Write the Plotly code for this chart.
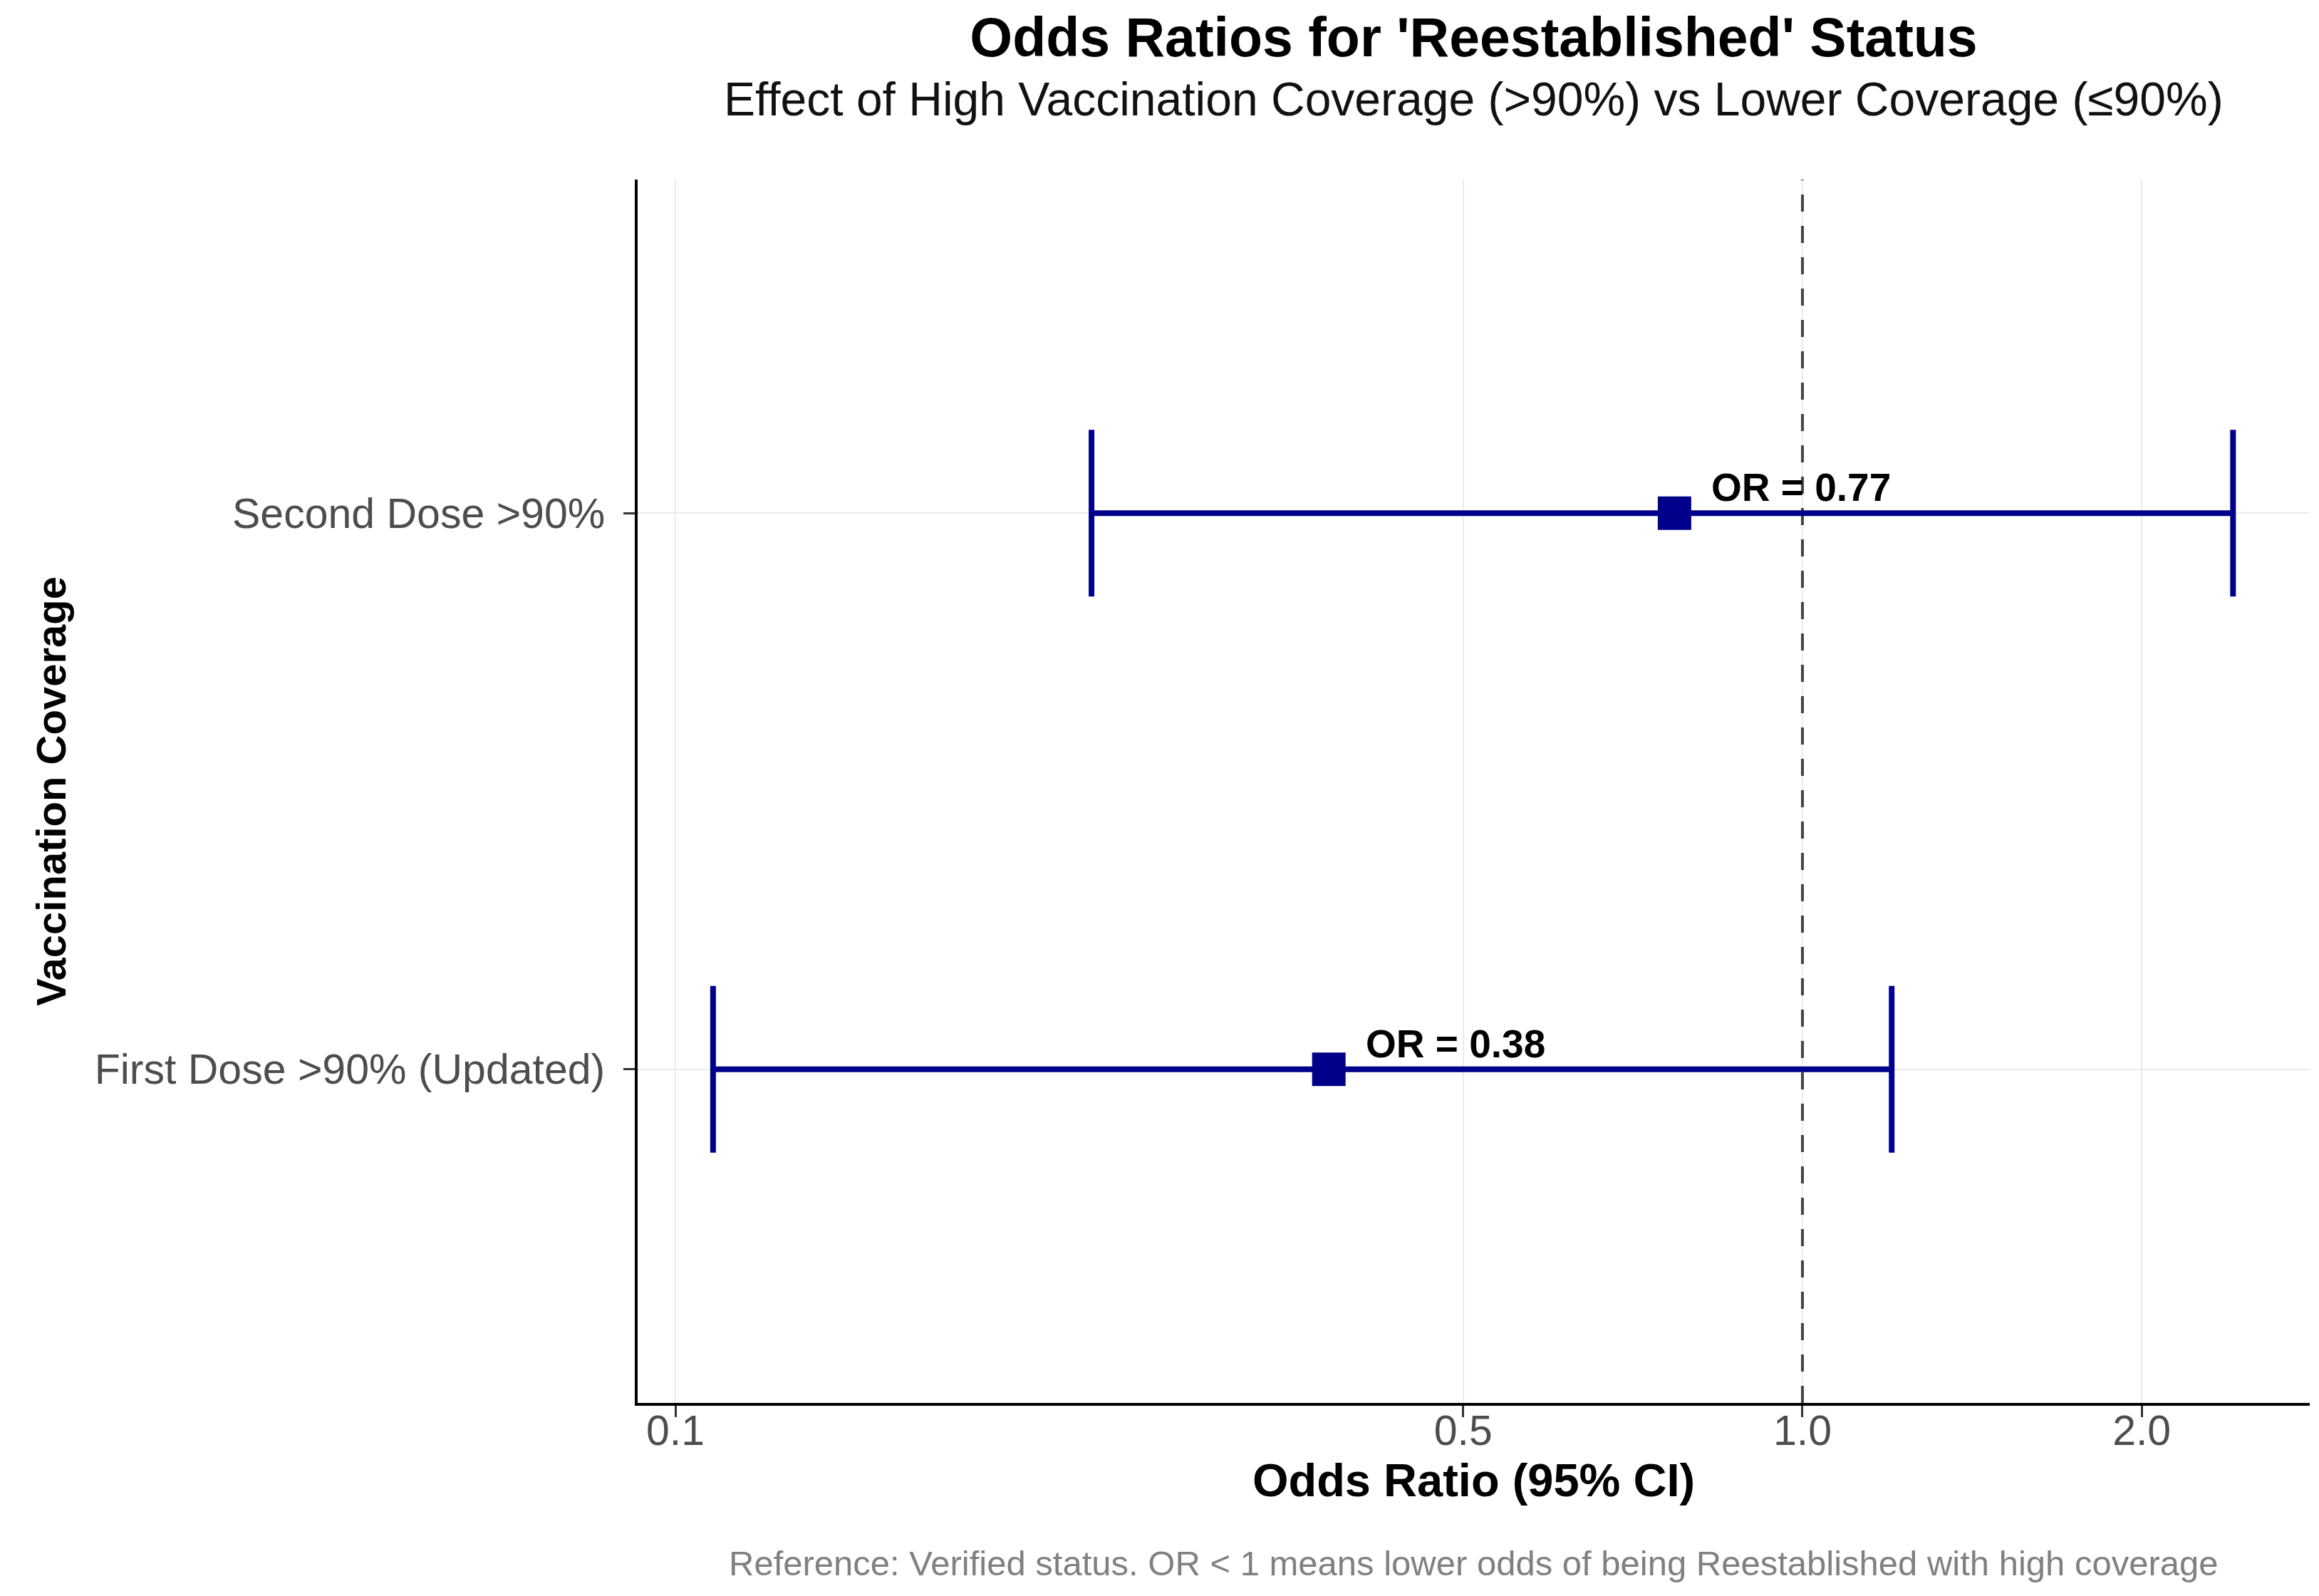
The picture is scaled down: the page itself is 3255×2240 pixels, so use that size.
import numpy as np
import plotly.graph_objects as go

# ---------------- data ----------------
categories = ["First Dose >90% (Updated)", "Second Dose >90%"]
odds_ratio = [0.38, 0.77]
ci_lower = [0.108, 0.234]
ci_upper = [1.20, 2.41]
x_ticks = [0.1, 0.5, 1.0, 2.0]
x_tick_labels = ["0.1", "0.5", "1.0", "2.0"]
reference_value = 1.0

title = "Odds Ratios for 'Reestablished' Status"
subtitle = "Effect of High Vaccination Coverage (>90%) vs Lower Coverage (≤90%)"
caption = "Reference: Verified status. OR < 1 means lower odds of being Reestablished with high coverage"
x_title = "Odds Ratio (95% CI)"
y_title = "Vaccination Coverage"

# ---------------- layout constants ----------------
W, H = 3255, 2240
PL, PR, PT, PB = 887, 3234, 244, 1961
FONT = "Liberation Sans, Arial, sans-serif"
NAVY = "#00008B"
CAP = 0.15


def py(p):
    return (PB - p) / (PB - PT)


ypos = list(range(len(categories)))

fig = go.Figure()

# reference line
fig.add_trace(go.Scatter(
    x=[reference_value, reference_value], y=[-0.6, len(categories) - 0.4],
    mode="lines", line=dict(color="#444444", width=4, dash="24px,20px"),
    hoverinfo="skip", showlegend=False))

# CI lines and caps
lx, ly, cx, cy = [], [], [], []
for i, lo, hi in zip(ypos, ci_lower, ci_upper):
    lx += [lo, hi, None]
    ly += [i, i, None]
    cx += [lo, lo, None, hi, hi, None]
    cy += [i - CAP, i + CAP, None, i - CAP, i + CAP, None]
fig.add_trace(go.Scatter(x=lx, y=ly, mode="lines",
                         line=dict(color=NAVY, width=8), showlegend=False))
fig.add_trace(go.Scatter(x=cx, y=cy, mode="lines",
                         line=dict(color=NAVY, width=8), showlegend=False))

# points
fig.add_trace(go.Scatter(x=odds_ratio, y=ypos, mode="markers",
                         marker=dict(symbol="square", size=47, color=NAVY,
                                     line=dict(width=0)),
                         showlegend=False))

# OR labels
for i, v in zip(ypos, odds_ratio):
    fig.add_annotation(x=np.log10(v), y=i, xref="x", yref="y",
                       text=f"<b>OR = {v:.2f}</b>", showarrow=False,
                       xanchor="left", yanchor="middle", xshift=50, yshift=36,
                       font=dict(family=FONT, size=55, color="black"))

# subtitle & caption
fig.add_annotation(x=0.5, y=py(131), xref="paper", yref="paper",
                   text=subtitle, showarrow=False, xanchor="center", yanchor="middle",
                   font=dict(family=FONT, size=66, color="#111111"))
fig.add_annotation(x=0.5, y=py(2186), xref="paper", yref="paper",
                   text=caption, showarrow=False, xanchor="center", yanchor="middle",
                   font=dict(family=FONT, size=49, color="#808080"))

fig.update_layout(
    width=W, height=H,
    margin=dict(l=PL, r=W - PR, t=PT, b=H - PB, autoexpand=False),
    paper_bgcolor="white", plot_bgcolor="white",
    font=dict(family=FONT, color="black"),
    title=dict(text=f"<b>{title}</b>", x=0.5, xref="paper", xanchor="center",
               y=1 - 44 / H, yref="container", yanchor="middle",
               font=dict(family=FONT, size=77, color="black")),
    showlegend=False,
)

fig.update_xaxes(
    type="log", range=[-1.0335, 0.4501],
    tickvals=x_ticks, ticktext=x_tick_labels,
    showgrid=True, gridcolor="#EBEBEB", gridwidth=2,
    showline=True, linecolor="black", linewidth=4,
    ticks="outside", ticklen=16, tickwidth=3, tickcolor="#333333",
    ticklabelstandoff=-32,
    tickfont=dict(family=FONT, size=59, color="#4D4D4D"),
    zeroline=False,
    title=dict(text=f"<b>{x_title}</b>", standoff=4,
               font=dict(family=FONT, size=65, color="black")),
)
fig.update_yaxes(
    range=[-0.6, len(categories) - 0.4],
    tickvals=ypos, ticktext=categories,
    showgrid=True, gridcolor="#EBEBEB", gridwidth=2,
    showline=True, linecolor="black", linewidth=4,
    ticks="outside", ticklen=16, tickwidth=3, tickcolor="#333333",
    ticklabelstandoff=14,
    tickfont=dict(family=FONT, size=59, color="#4D4D4D"),
    zeroline=False,
    title=dict(text=f"<b>{y_title}</b>", standoff=22,
               font=dict(family=FONT, size=58, color="black")),
)

fig.write_html("out.html")
